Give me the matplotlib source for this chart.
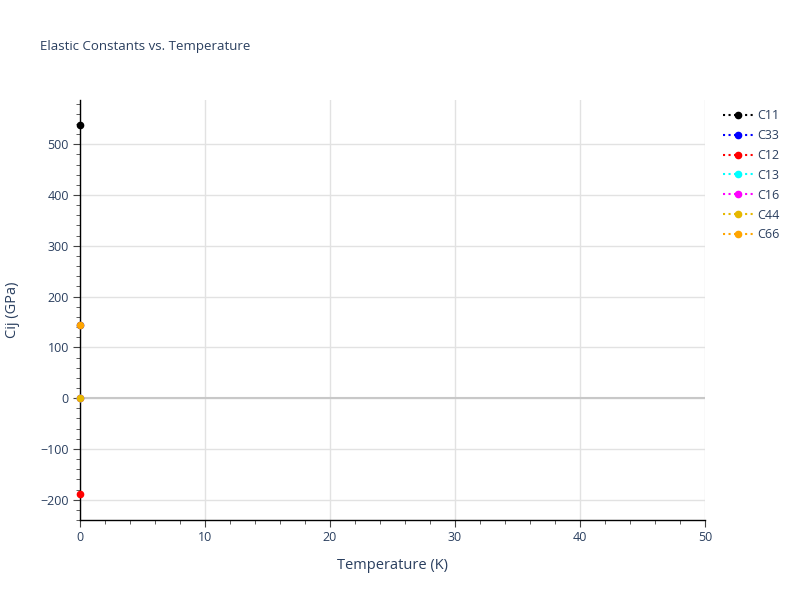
import numpy as np
import matplotlib.pyplot as plt
from matplotlib.ticker import MultipleLocator

plt.rcParams['font.family'] = ['Open Sans', 'DejaVu Sans']

# data (single temperature point)
temperature = [0]
names = ["C11", "C33", "C12", "C13", "C16", "C44", "C66"]
values = {
    "C11": [538],
    "C33": [144],
    "C12": [-189],
    "C13": [0],
    "C16": [0],
    "C44": [0],
    "C66": [144],
}
colors = ["black", "blue", "red", "cyan", "magenta", "#e6b800", "orange"]

text_col = "#2a3f5f"

fig = plt.figure(figsize=(8, 6), dpi=100)
ax = fig.add_axes([0.1, 0.1333, 0.78125, 0.7])

for name, col in zip(names, colors):
    ax.plot(temperature, values[name], linestyle=":", linewidth=1.5, color=col,
            marker="o", markersize=4.5, label=name, clip_on=False, zorder=3)

ax.set_xlim(0, 50)
ax.set_ylim(-240, 587)
ax.xaxis.set_major_locator(MultipleLocator(10))
ax.xaxis.set_minor_locator(MultipleLocator(2))
ax.yaxis.set_major_locator(MultipleLocator(100))
ax.yaxis.set_minor_locator(MultipleLocator(20))

ax.grid(True, which="major", color="#e2e2e2", linewidth=1)
ax.axhline(0, color="#c8c8c8", linewidth=1.5, zorder=1)
ax.set_axisbelow(True)

for s in ["top", "right"]:
    ax.spines[s].set_visible(False)
for s in ["left", "bottom"]:
    ax.spines[s].set_color("black")
    ax.spines[s].set_linewidth(1)

ax.tick_params(which="major", direction="out", length=5, color="#444444",
               labelsize=9, labelcolor=text_col, pad=3)
ax.tick_params(which="minor", direction="out", length=3, color="#444444")
ax.set_yticklabels([f"{int(v)}".replace("-", "\u2212") for v in ax.get_yticks()])

ax.set_xlabel("Temperature (K)", fontsize=10.5, color=text_col, labelpad=10)
ax.set_ylabel("Cij (GPa)", fontsize=10.5, color=text_col, labelpad=15)

fig.text(0.05, 0.923, "Elastic Constants vs. Temperature", fontsize=9.5,
         color=text_col, va="center")

leg = ax.legend(loc="upper left", bbox_to_anchor=(1.02, 0.99), frameon=False,
                fontsize=9, handlelength=2.4, labelspacing=0.55, borderaxespad=0,
                handletextpad=0.4)
for t in leg.get_texts():
    t.set_color(text_col)

fig.savefig("out.png", dpi=100)
